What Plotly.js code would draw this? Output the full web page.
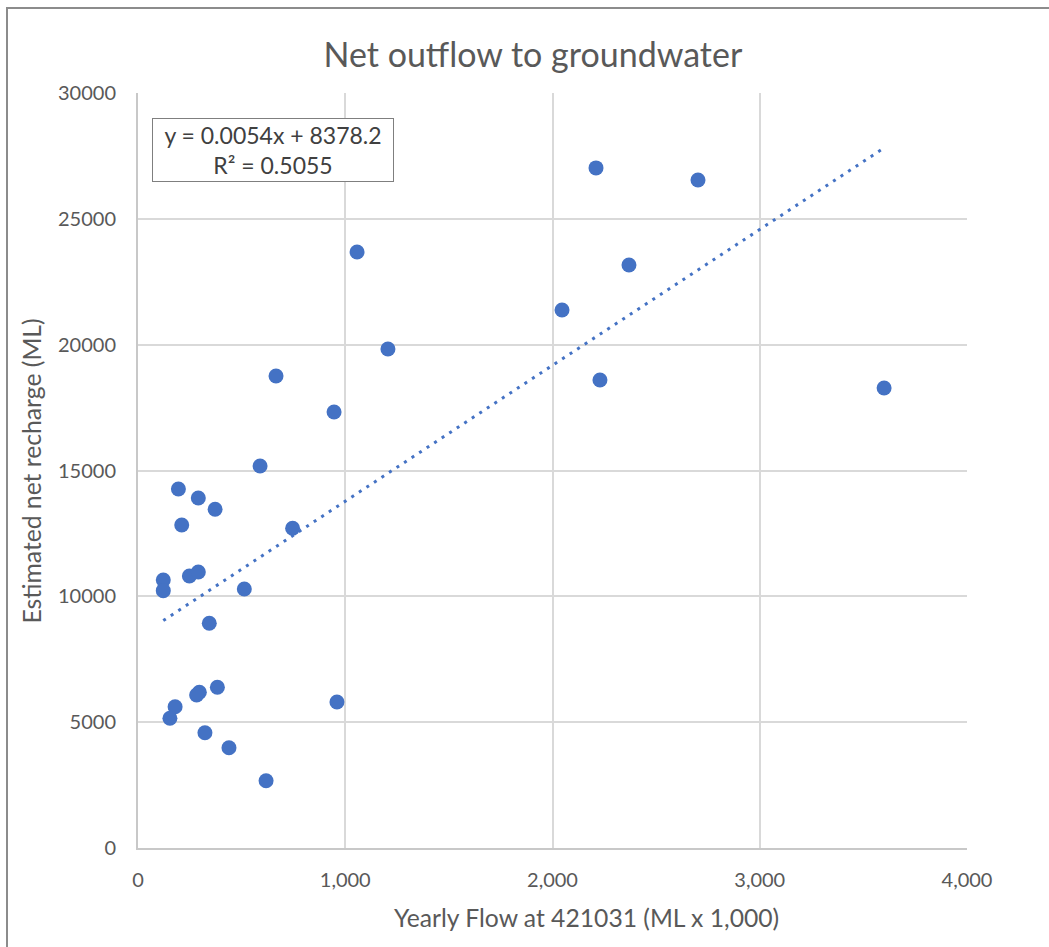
<!DOCTYPE html>
<html>
<head>
<meta charset="utf-8">
<script src="https://cdn.plot.ly/plotly-3.0.1.min.js"></script>
<style>
  html, body { margin: 0; padding: 0; background: #ffffff; }
  #wrap { position: relative; width: 1049px; height: 947px; overflow: hidden; }
  #chart { position: absolute; left: 0; top: 0; width: 1049px; height: 947px; }
  #frame { position: absolute; left: 6px; top: 7px; width: 1100px; height: 1000px;
           border-left: 2px solid #8c8c8c; border-top: 2px solid #8c8c8c; pointer-events: none; }
</style>
</head>
<body>
<div id="wrap">
  <div id="chart"></div>
  <div id="frame"></div>
</div>
<script>
// Yearly flow at 421031 (ML x 1,000)
const yearlyFlow = [589, 195, 291, 372, 211, 746, 122, 122, 248, 291, 513, 344, 383, 296, 283, 179, 154, 323, 439, 618,
                    666, 946, 1057, 1206, 960, 2046, 2210, 2229, 2369, 2702, 3600];
// Estimated net recharge (ML)
const netRecharge = [15181, 14267, 13909, 13460, 12836, 12705, 10650, 10225, 10809, 10968, 10292, 8929, 6386, 6187, 6080, 5615, 5154, 4582, 3986, 2675,
                     18757, 17327, 23685, 19830, 5802, 21380, 27023, 18598, 23168, 26545, 18280];
// Linear trendline as shown on chart (fitted on flow in ML, i.e. axis value x 1,000)
const trendSlope = 0.0054;
const trendIntercept = 8378.2;
const flowUnit = 1000;
const trendLabel = ["y = 0.0054x + 8378.2", "R\u00b2 = 0.5055"];
const xTickVals = [0, 1000, 2000, 3000, 4000];
const yTickVals = [0, 5000, 10000, 15000, 20000, 25000, 30000];

const xMin = Math.min(...yearlyFlow), xMax = Math.max(...yearlyFlow);
const trendX = [xMin, xMax];
const trendY = trendX.map(v => trendSlope * v * flowUnit + trendIntercept);

const blue = '#4472C4';
const font = 'Lato, "Open Sans", sans-serif';
const textGrey = '#595959';

const data = [
  {
    x: trendX, y: trendY, type: 'scatter', mode: 'lines',
    line: { color: blue, width: 3, dash: '3px,6px' },
    hoverinfo: 'skip'
  },
  {
    x: yearlyFlow, y: netRecharge, type: 'scatter', mode: 'markers',
    marker: { color: blue, size: 15, line: { width: 0 } },
    hoverinfo: 'x+y'
  }
];

const layout = {
  width: 1049, height: 947,
  margin: { l: 138, r: 82, t: 93, b: 99 },
  paper_bgcolor: '#ffffff', plot_bgcolor: '#ffffff',
  showlegend: false,
  font: { family: font, color: textGrey, size: 20 },
  title: {
    text: 'Net outflow to groundwater',
    font: { family: font, size: 34, color: textGrey },
    x: 0.508, xanchor: 'center', y: 0.942, yanchor: 'middle'
  },
  xaxis: {
    range: [0, 4000], tickvals: xTickVals, tickformat: ',',
    showgrid: true, gridcolor: '#d9d9d9', gridwidth: 2,
    showline: true, linecolor: '#c8c8c8', linewidth: 2,
    zeroline: false, ticks: '', ticklabelstandoff: 13,
    tickfont: { family: font, size: 20, color: textGrey }
  },
  yaxis: {
    range: [0, 30000], tickvals: yTickVals, tickformat: 'd',
    showgrid: true, gridcolor: '#d9d9d9', gridwidth: 2,
    showline: true, linecolor: '#c8c8c8', linewidth: 2,
    zeroline: false, ticks: '', ticklabelstandoff: 16,
    tickfont: { family: font, size: 20, color: textGrey }
  },
  annotations: [
    {
      xref: 'paper', yref: 'paper', x: 0.1634, y: 0.9245,
      xanchor: 'center', yanchor: 'middle',
      text: trendLabel.join('<br>'), align: 'center', showarrow: false,
      font: { family: font, size: 23, color: '#404040' },
      bgcolor: '#ffffff', bordercolor: '#7f7f7f', borderwidth: 1,
      borderpad: 2, width: 236
    },
    {
      xref: 'paper', yref: 'paper', x: 0.5416, y: -0.0914,
      xanchor: 'center', yanchor: 'middle', showarrow: false,
      text: 'Yearly Flow at 421031 (ML x 1,000)',
      font: { family: font, size: 24.7, color: textGrey }
    },
    {
      xref: 'paper', yref: 'paper', x: -0.1279, y: 0.5,
      xanchor: 'center', yanchor: 'middle', showarrow: false, textangle: -90,
      text: 'Estimated net recharge (ML)',
      font: { family: font, size: 24.7, color: textGrey }
    }
  ]
};

Plotly.newPlot('chart', data, layout, { displayModeBar: false, staticPlot: true });
</script>
</body>
</html>
